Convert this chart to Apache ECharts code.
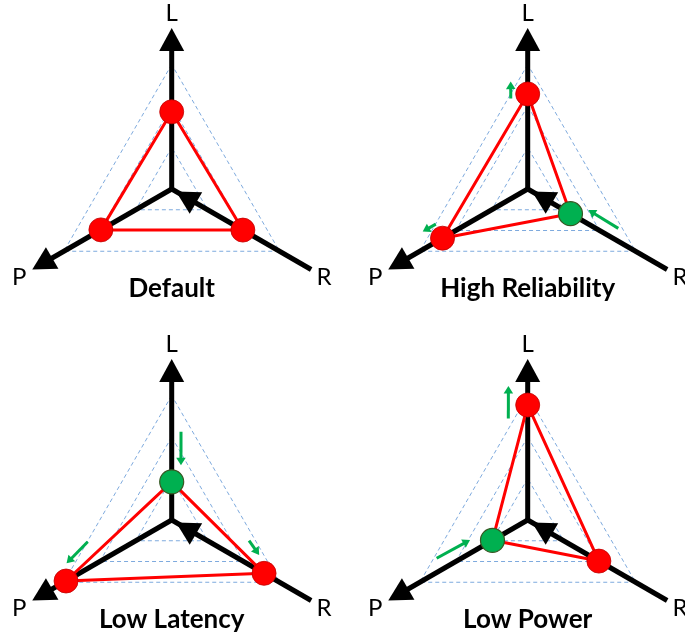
<!DOCTYPE html>
<html>
<head>
<meta charset="utf-8">
<script src="https://cdn.jsdelivr.net/npm/echarts@6/dist/echarts.min.js"></script>
<style>
  html, body { margin: 0; padding: 0; background: #fff; }
  #main { width: 685px; height: 641px; }
</style>
</head>
<body>
<div id="main"></div>
<script>
// 四种模式下 L / P / R 三个指标的取值（单位：虚线三角形的层级）
const panelTitles = ['Default', 'High Reliability', 'Low Latency', 'Low Power'];
const axisNames = ['L', 'P', 'R'];
const axisAngles = [90, 210, 330];
const defaultValues = [1.86, 1.97, 1.98];
const highReliabilityValues = [2.29, 2.37, 1.19];
const lowLatencyValues = [0.92, 2.94, 2.57];
const lowPowerValues = [2.77, 0.98, 1.98];
// 发生变化的指标（绿点），-1 表示没有
const changedAxis = [-1, 2, 0, 1];
// 绿色小箭头：[起点半径, 起点角度, 终点半径, 终点角度]
const defaultArrows = [];
const highReliabilityArrows = [[2.22, 100.6, 2.62, 99.0], [2.37, 200.9, 2.73, 202.1], [2.38, 336.5, 1.55, 340.9]];
const lowLatencyArrows = [[2.14, 84.0, 1.34, 80.4], [2.09, 194.5, 2.74, 202.4], [1.93, 345.0, 2.27, 338.2]];
const lowPowerArrows = [[2.49, 100.8, 3.26, 98.2], [2.38, 202.8, 1.47, 199.1]];

const panelValues = [defaultValues, highReliabilityValues, lowLatencyValues, lowPowerValues];
const panelArrows = [defaultArrows, highReliabilityArrows, lowLatencyArrows, lowPowerArrows];

// 布局
const UNIT = 41.5;        // 每一层虚线三角的像素半径
const LEVELS = 3;
const AXIS_MAX = 3.88;    // 黑色坐标轴长度（层级单位）
const LABEL_R = 4.24;
const centers = [[171.7, 189], [527.7, 189], [171.7, 520], [527.7, 520]];
const TITLE_OFFSET = 101;

const RED = '#ff0000';
const GREEN = '#00b050';
const FONT = 'Lato, "Open Sans", sans-serif';

let chart = echarts.init(document.getElementById('main'));

function renderAxis(params, api) {
  let k = api.value(2);
  let a = axisAngles[k];
  let c = api.coord([0, a]);
  let e = api.coord([AXIS_MAX, a]);
  let len = Math.hypot(e[0] - c[0], e[1] - c[1]);
  let d = [(e[0] - c[0]) / len, (e[1] - c[1]) / len];
  let n = [-d[1], d[0]];
  let headLen = 23, headW = 25;
  let children = [];
  let tip, base, lineEnd;
  if (k === 2) {
    // R 轴：箭头在中心附近指向中心
    tip = [c[0] + d[0] * 5, c[1] + d[1] * 5];
    base = [tip[0] + d[0] * headLen, tip[1] + d[1] * headLen];
    lineEnd = e;
  } else {
    tip = e;
    base = [e[0] - d[0] * headLen, e[1] - d[1] * headLen];
    lineEnd = [base[0] + d[0] * 4, base[1] + d[1] * 4];
  }
  children.push({
    type: 'line',
    shape: { x1: c[0], y1: c[1], x2: lineEnd[0], y2: lineEnd[1] },
    style: { stroke: '#000', lineWidth: 5 }
  });
  children.push({
    type: 'polygon',
    shape: {
      points: [tip,
        [base[0] + n[0] * headW / 2, base[1] + n[1] * headW / 2],
        [base[0] - n[0] * headW / 2, base[1] - n[1] * headW / 2]]
    },
    style: { fill: '#000' }
  });
  let lp = api.coord([LABEL_R, a]);
  children.push({
    type: 'text',
    x: lp[0], y: lp[1],
    style: {
      text: axisNames[k], fill: '#000', fontSize: 24, fontFamily: FONT,
      align: 'center', verticalAlign: 'middle'
    }
  });
  return { type: 'group', children: children };
}

function renderArrow(params, api) {
  let p1 = api.coord([api.value(0), api.value(1)]);
  let p2 = api.coord([api.value(2), api.value(3)]);
  let len = Math.hypot(p2[0] - p1[0], p2[1] - p1[1]);
  let d = [(p2[0] - p1[0]) / len, (p2[1] - p1[1]) / len];
  let n = [-d[1], d[0]];
  let headLen = 7.5, headW = 9.5;
  let base = [p2[0] - d[0] * headLen, p2[1] - d[1] * headLen];
  return {
    type: 'group',
    children: [{
      type: 'line',
      shape: { x1: p1[0], y1: p1[1], x2: base[0] + d[0], y2: base[1] + d[1] },
      style: { stroke: GREEN, lineWidth: 3 }
    }, {
      type: 'polygon',
      shape: {
        points: [p2,
          [base[0] + n[0] * headW / 2, base[1] + n[1] * headW / 2],
          [base[0] - n[0] * headW / 2, base[1] - n[1] * headW / 2]]
      },
      style: { fill: GREEN }
    }]
  };
}

let radar = [], polar = [], angleAxis = [], radiusAxis = [], title = [], series = [];

centers.forEach((c, i) => {
  radar.push({
    center: c,
    radius: LEVELS * UNIT,
    startAngle: 90,
    shape: 'polygon',
    splitNumber: LEVELS,
    indicator: axisNames.map(name => ({ name: name, min: 0, max: LEVELS })),
    axisName: { show: false },
    axisLine: { show: false },
    axisTick: { show: false },
    axisLabel: { show: false },
    splitLine: { lineStyle: { color: '#7eaade', width: 1, type: [4, 3] } },
    splitArea: { show: false }
  });
  polar.push({ center: c, radius: AXIS_MAX * UNIT });
  angleAxis.push({
    polarIndex: i, type: 'value', min: 0, max: 360, startAngle: 0, clockwise: false,
    show: false, axisLine: { show: false }, axisTick: { show: false },
    axisLabel: { show: false }, splitLine: { show: false }
  });
  radiusAxis.push({
    polarIndex: i, type: 'value', min: 0, max: AXIS_MAX,
    show: false, axisLine: { show: false }, axisTick: { show: false },
    axisLabel: { show: false }, splitLine: { show: false }
  });
  title.push({
    text: panelTitles[i],
    left: c[0],
    top: c[1] + TITLE_OFFSET - 14,
    textAlign: 'center',
    padding: 0,
    textStyle: { fontFamily: FONT, fontWeight: 'bold', fontSize: 26, color: '#000' }
  });

  // 黑色坐标轴
  series.push({
    type: 'custom',
    coordinateSystem: 'polar',
    polarIndex: i,
    silent: true,
    z: 2,
    data: axisAngles.map((a, k) => [0, a, k]),
    renderItem: renderAxis
  });
  // 红色三角形
  series.push({
    type: 'radar',
    radarIndex: i,
    silent: true,
    z: 3,
    symbol: 'none',
    lineStyle: { color: RED, width: 3 },
    data: [{ value: panelValues[i], name: panelTitles[i] }]
  });
  // 各指标的点
  series.push({
    type: 'scatter',
    coordinateSystem: 'polar',
    polarIndex: i,
    silent: true,
    z: 4,
    symbolSize: 24,
    data: panelValues[i].map((v, k) => ({
      value: [v, axisAngles[k]],
      itemStyle: k === changedAxis[i]
        ? { color: GREEN, borderColor: '#385723', borderWidth: 1.2, opacity: 1 }
        : { color: RED, borderColor: '#c00000', borderWidth: 0.8, opacity: 1 }
    }))
  });
  // 绿色变化箭头
  series.push({
    type: 'custom',
    coordinateSystem: 'polar',
    polarIndex: i,
    silent: true,
    z: 5,
    data: panelArrows[i],
    renderItem: renderArrow
  });
});

chart.setOption({
  animation: false,
  backgroundColor: '#fff',
  title: title,
  radar: radar,
  polar: polar,
  angleAxis: angleAxis,
  radiusAxis: radiusAxis,
  series: series
});
</script>
</body>
</html>
